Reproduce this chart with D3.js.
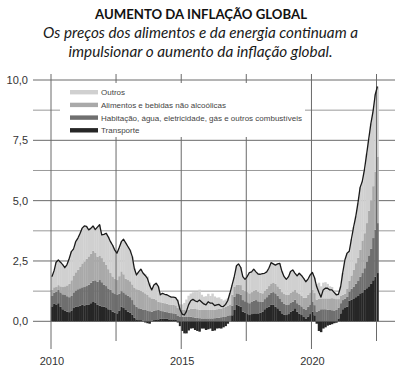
<!DOCTYPE html>
<html>
<head>
<meta charset="utf-8">
<script src="https://cdn.jsdelivr.net/npm/d3@7"></script>
<style>
body { margin: 0; background: #fff; }
</style>
</head>
<body>
<svg id="chart"></svg>
<script>
// monthly contributions, Jan 2010 - Jul 2022
const headline = [
    1.85, 2.1, 2.45, 2.54, 2.45, 2.35, 2.22, 2.35, 2.6, 2.89, 3.0, 3.3,
    3.45, 3.65, 3.86, 3.95, 3.93, 3.79, 3.85, 3.95, 3.8, 3.9, 4.0, 3.58,
    3.6, 3.65, 3.5, 3.3, 3.15, 2.95, 2.82, 3.05, 3.3, 3.4, 3.25, 3.1,
    2.95, 2.68, 2.2, 1.92, 2.05, 2.16, 2.0, 1.9, 1.78, 1.5, 1.3, 1.5,
    1.58, 1.45, 1.1, 1.16, 1.12, 1.1, 1.05, 1.0, 1.0, 0.98, 0.85, 0.5,
    0.3, 0.26, 0.4, 0.68, 0.85, 0.91, 0.85, 0.81, 0.88, 0.8, 0.72, 0.68,
    0.81, 0.75, 0.75, 0.65, 0.68, 0.7, 0.62, 0.61, 0.7, 0.85, 1.16, 1.5,
    1.85, 2.3, 2.38, 2.24, 1.85, 1.74, 1.85, 2.02, 2.05, 2.16, 2.05, 1.96,
    1.95, 1.98, 1.99, 2.05, 2.2, 2.43, 2.38, 2.33, 2.38, 2.4, 2.06, 1.85,
    1.74, 1.85, 2.06, 2.13, 2.0, 1.88, 1.99, 1.9, 1.78, 1.64, 1.75, 1.92,
    2.02, 1.8, 1.44, 1.2, 1.0, 1.3, 1.37, 1.37, 1.3, 1.3, 1.2, 1.1,
    1.12, 1.44, 2.0, 2.54, 2.82, 2.9, 3.4, 3.9, 4.35, 4.9, 5.55, 5.8,
    6.3, 6.95, 7.55, 8.2, 8.7, 9.4, 9.73
];

const transporte = [
    0.62, 0.72, 0.7, 0.75, 0.6, 0.5, 0.45, 0.4, 0.38, 0.45, 0.55, 0.6,
    0.62, 0.65, 0.68, 0.66, 0.68, 0.7, 0.75, 0.8, 0.78, 0.68, 0.65, 0.62,
    0.6, 0.58, 0.5, 0.47, 0.4, 0.35, 0.33, 0.45, 0.6, 0.55, 0.47, 0.4,
    0.35, 0.28, 0.15, 0.08, 0.05, 0.05, 0.02, -0.05, -0.08, -0.1, 0.02, 0.05,
    0.08, 0.08, 0.1, 0.1, 0.1, 0.1, 0.08, 0.08, 0.08, 0.08, -0.05, -0.2,
    -0.4, -0.5, -0.5, -0.38, -0.3, -0.29, -0.36, -0.4, -0.43, -0.3, -0.3, -0.36,
    -0.33, -0.3, -0.4, -0.38, -0.3, -0.29, -0.3, -0.25, -0.2, -0.1, 0.0, 0.25,
    0.47, 0.68, 0.65, 0.6, 0.4, 0.35, 0.3, 0.26, 0.3, 0.33, 0.33, 0.33,
    0.35, 0.4, 0.5, 0.55, 0.6, 0.68, 0.68, 0.6, 0.54, 0.45, 0.33, 0.28,
    0.26, 0.3, 0.4, 0.45, 0.54, 0.4, 0.32, 0.26, 0.18, 0.12, 0.2, 0.3,
    0.4, 0.25, -0.1, -0.4, -0.45, -0.3, -0.25, -0.18, -0.15, -0.12, -0.08, -0.06,
    0.12, 0.33, 0.5, 0.58, 0.61, 0.85, 0.9, 0.95, 1.0, 1.05, 1.16, 1.2,
    1.3, 1.37, 1.45, 1.55, 1.7, 1.85, 2.0
];

const habitacao = [
    0.43, 0.47, 0.52, 0.55, 0.6, 0.62, 0.64, 0.64, 0.62, 0.6, 0.65, 0.68,
    0.71, 0.72, 0.73, 0.76, 0.78, 0.81, 0.85, 0.88, 0.92, 0.96, 1.06, 1.0,
    0.91, 0.88, 0.86, 0.83, 0.8, 0.78, 0.76, 0.7, 0.65, 0.65, 0.65, 0.66,
    0.65, 0.6, 0.55, 0.52, 0.49, 0.48, 0.47, 0.47, 0.45, 0.42, 0.38, 0.38,
    0.38, 0.39, 0.35, 0.32, 0.3, 0.28, 0.27, 0.26, 0.25, 0.24, 0.22, 0.2,
    0.19, 0.19, 0.18, 0.18, 0.19, 0.17, 0.15, 0.14, 0.13, 0.12, 0.12, 0.12,
    0.12, 0.12, 0.12, 0.13, 0.14, 0.15, 0.17, 0.18, 0.2, 0.22, 0.25, 0.4,
    0.55, 0.48, 0.48, 0.5, 0.48, 0.48, 0.49, 0.49, 0.5, 0.52, 0.55, 0.5,
    0.45, 0.41, 0.42, 0.45, 0.49, 0.5, 0.53, 0.56, 0.52, 0.5, 0.47, 0.44,
    0.42, 0.4, 0.38, 0.36, 0.35, 0.35, 0.36, 0.36, 0.35, 0.37, 0.4, 0.4,
    0.4, 0.42, 0.4, 0.45, 0.5, 0.5, 0.5, 0.48, 0.47, 0.46, 0.45, 0.47,
    0.45, 0.42, 0.38, 0.36, 0.4, 0.38, 0.45, 0.49, 0.56, 0.62, 0.69, 0.8,
    0.9, 1.1, 1.28, 1.45, 1.75, 1.95, 2.07
];

const alimentos = [
    0.25, 0.22, 0.2, 0.2, 0.25, 0.3, 0.36, 0.45, 0.55, 0.65, 0.7, 0.75,
    0.8, 0.9, 0.99, 1.05, 1.13, 1.18, 1.2, 1.24, 1.15, 1.04, 1.02, 1.0,
    0.95, 0.88, 0.8, 0.7, 0.66, 0.64, 0.62, 0.72, 0.82, 0.75, 0.65, 0.65,
    0.66, 0.65, 0.7, 0.73, 0.76, 0.74, 0.72, 0.69, 0.64, 0.58, 0.55, 0.5,
    0.42, 0.34, 0.34, 0.35, 0.35, 0.35, 0.35, 0.35, 0.35, 0.34, 0.33, 0.34,
    0.3, 0.28, 0.28, 0.3, 0.32, 0.35, 0.36, 0.36, 0.35, 0.35, 0.35, 0.35,
    0.35, 0.35, 0.35, 0.35, 0.36, 0.36, 0.36, 0.38, 0.4, 0.42, 0.45, 0.45,
    0.42, 0.35, 0.38, 0.4, 0.42, 0.42, 0.42, 0.41, 0.41, 0.42, 0.42, 0.4,
    0.38, 0.35, 0.35, 0.35, 0.37, 0.39, 0.4, 0.4, 0.39, 0.4, 0.41, 0.41,
    0.41, 0.41, 0.41, 0.42, 0.43, 0.45, 0.45, 0.45, 0.45, 0.48, 0.5, 0.5,
    0.5, 0.5, 0.5, 0.48, 0.45, 0.45, 0.45, 0.47, 0.48, 0.5, 0.5, 0.45,
    0.35, 0.3, 0.22, 0.21, 0.35, 0.45, 0.55, 0.69, 0.85, 0.96, 1.11, 1.35,
    1.45, 1.6, 1.85, 2.0, 2.15, 2.4, 2.76
];

const legendLabels = [
    "Outros",
    "Alimentos e bebidas não alcoólicas",
    "Habitação, água, eletricidade, gás e outros combustíveis",
    "Transporte"
];
const legendColors = ["#d0d0d0", "#a9a9a9", "#6f6f6f", "#262626"];

const yMajorTicks = [0, 2.5, 5, 7.5, 10];
const yMinorTicks = [1.25, 3.75, 6.25, 8.75];
const xLabelYears = [2010, 2015, 2020];
const xMinorYears = [2012.5, 2017.5, 2022.5];

var width = 403,
    height = 373,
    stackKeys = ["transporte", "habitacao", "alimentos", "outros"],
    stackColors = ["#262626", "#6f6f6f", "#a9a9a9", "#d0d0d0"],
    gridColor = "#6a6a6a",
    minorGridColor = "#9a9a9a";

var months = d3.timeMonth.range(new Date(2010, 0, 1), new Date(2022, 7, 1));

// rows for the stack; "outros" is the rest of the headline rate
var rows = months.map(function (d, i) {
    return {
        date: d,
        total: headline[i],
        transporte: transporte[i],
        habitacao: habitacao[i],
        alimentos: alimentos[i],
        outros: +(headline[i] - transporte[i] - habitacao[i] - alimentos[i]).toFixed(2)
    };
});

const yearToDate = function (y) {
    var yr = Math.floor(y);
    return new Date(yr, Math.round((y - yr) * 12), 1);
};

var x = d3.scaleTime()
            .domain([new Date(2010, 0, 1), new Date(2022, 6, 1)])
            .range([51, 376.5]);

var y = d3.scaleLinear()
            .domain([0, 10])
            .range([321.3, 80]);

var barWidth = (x.range()[1] - x.range()[0]) / (months.length - 1);

var ptFormat = d3.formatLocale({ decimal: ",", thousands: ".", grouping: [3], currency: ["", "€"] }).format(".1f");

var svg = d3.select("#chart")
            .attr("width", width)
            .attr("height", height)
            .style("font-family", "'Liberation Sans', Arial, sans-serif");

// Title and subtitle
svg.append("text")
    .attr("x", 201)
    .attr("y", 18.5)
    .attr("text-anchor", "middle")
    .attr("font-family", "Lato, 'Open Sans', sans-serif")
    .attr("font-weight", "bold")
    .attr("font-size", "14px")
    .attr("fill", "#111")
    .attr("textLength", 212)
    .attr("lengthAdjust", "spacingAndGlyphs")
    .text("AUMENTO DA INFLAÇÃO GLOBAL");

[
    { text: "Os preços dos alimentos e da energia continuam a", y: 37.5, len: 315 },
    { text: "impulsionar o aumento da inflação global.", y: 57, len: 264 }
].forEach(function (l) {
    svg.append("text")
        .attr("x", 200.5)
        .attr("y", l.y)
        .attr("text-anchor", "middle")
        .attr("font-family", "Lato, 'Open Sans', sans-serif")
        .attr("font-style", "italic")
        .attr("font-size", "15.5px")
        .attr("fill", "#1a1a1a")
        .attr("textLength", l.len)
        .attr("lengthAdjust", "spacingAndGlyphs")
        .text(l.text);
});

// Horizontal grid (behind the bars)
svg.append("g")
    .selectAll("line")
    .data(yMajorTicks.concat(yMinorTicks))
    .join("line")
    .attr("x1", 33)
    .attr("x2", 395)
    .attr("y1", d => y(d))
    .attr("y2", d => y(d))
    .attr("stroke", d => yMajorTicks.includes(d) ? gridColor : minorGridColor)
    .attr("stroke-width", 1);

// Y axis labels
var yAxis = d3.axisLeft(y)
                .tickValues(yMajorTicks)
                .tickFormat(ptFormat)
                .tickSize(0)
                .tickPadding(0);

svg.append("g")
    .attr("transform", "translate(28,0)")
    .call(yAxis)
    .call(g => g.select(".domain").remove())
    .call(g => g.selectAll("text")
        .attr("font-size", "11px")
        .attr("font-family", "'Liberation Sans', Arial, sans-serif")
        .attr("fill", "#333"));

// Stacked monthly bars
var series = d3.stack()
                .keys(stackKeys)
                .offset(d3.stackOffsetDiverging)(rows);

svg.append("g")
    .selectAll("g")
    .data(series)
    .join("g")
    .attr("fill", (d, i) => stackColors[i])
    .selectAll("rect")
    .data(d => d)
    .join("rect")
    .attr("x", d => x(d.data.date) - barWidth / 2 + 0.9)
    .attr("width", barWidth + 0.3)
    .attr("y", d => y(Math.max(d[0], d[1])))
    .attr("height", d => Math.abs(y(d[0]) - y(d[1])));

// Vertical grid (drawn over the bars)
svg.append("g")
    .selectAll("line")
    .data(xLabelYears.concat(xMinorYears))
    .join("line")
    .attr("x1", d => x(yearToDate(d)))
    .attr("x2", d => x(yearToDate(d)))
    .attr("y1", 74)
    .attr("y2", d => xLabelYears.includes(d) ? 349 : 341)
    .attr("stroke", gridColor)
    .attr("stroke-width", 1);

// Headline line
var line = d3.line()
                .x(d => x(d.date) + 0.9)
                .y(d => y(d.total));

svg.append("path")
    .datum(rows)
    .attr("fill", "none")
    .attr("stroke", "#1a1a1a")
    .attr("stroke-width", 1.3)
    .attr("stroke-linejoin", "round")
    .attr("d", line);

// X labels
svg.append("g")
    .selectAll("text")
    .data(xLabelYears)
    .join("text")
    .attr("x", d => x(yearToDate(d)) + 1)
    .attr("y", 365)
    .attr("text-anchor", "middle")
    .attr("font-size", "11px")
    .attr("fill", "#333")
    .text(d => d);

// Legend
var legend = svg.append("g");

legend.append("rect")
    .attr("x", 60)
    .attr("y", 83)
    .attr("width", 245)
    .attr("height", 54)
    .attr("fill", "#fff");

legendLabels.forEach(function (label, i) {
    var rowY = 90 + i * 12.7;

    legend.append("rect")
        .attr("x", 70)
        .attr("y", rowY)
        .attr("width", 28)
        .attr("height", 4.4)
        .attr("fill", legendColors[i]);

    legend.append("text")
        .attr("x", 101)
        .attr("y", rowY + 5.3)
        .attr("font-size", "8px")
        .attr("fill", "#444")
        .text(label);
});
</script>
</body>
</html>
